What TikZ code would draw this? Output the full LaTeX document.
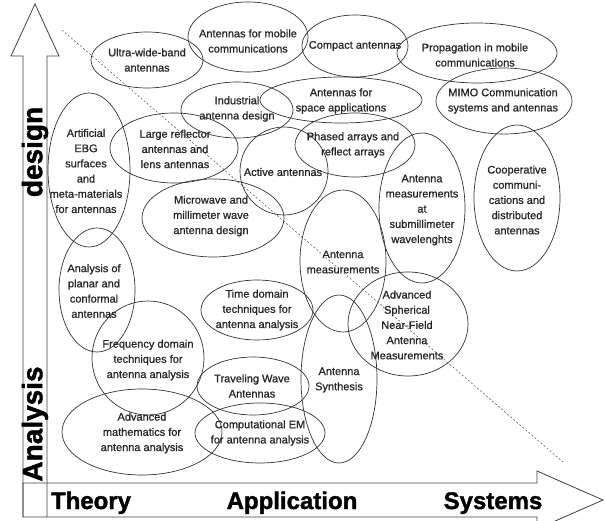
\documentclass[tikz,border=0pt]{standalone}
\usepackage{fontspec}
\setmainfont{Liberation Sans}
\newfontfamily\lblfont[FakeBold=0.9]{Liberation Sans}
\newfontfamily\axfont[FakeBold=1.5]{Liberation Sans Bold}
\begin{document}
\begin{tikzpicture}[x=1pt,y=-1pt,
  blob/.style={draw=black!80,line width=0.7pt},
  lbl/.style={inner sep=0pt,align=center,text=black!85,font=\lblfont\fontsize{11}{15.2}\selectfont},
  axlbl/.style={inner sep=0pt,font=\axfont\fontsize{28}{30}\selectfont},
  botlbl/.style={inner sep=0pt,anchor=base,font=\axfont\fontsize{24}{26}\selectfont},
  axis/.style={draw=black!75,line width=0.8pt}]
\useasboundingbox (0,0) rectangle (605,521);
% axes
\draw[axis] (23,517) -- (23,56) -- (11,56) -- (35,4) -- (59,56) -- (47,56) -- (47,517);
\draw[axis] (23,483) -- (537,483) -- (537,471) -- (603,500) -- (537,529) -- (537,517) -- (23,517) -- cycle;
\node[axlbl,rotate=90] (design) at (35,152) {design};
\node[axlbl,rotate=90] (analysis) at (35,424) {Analysis};
\node[botlbl] (theory) at (91,509) {Theory};
\node[botlbl] (application) at (292,509) {Application};
\node[botlbl] (systems) at (493,509) {Systems};
% diagonal
\coordinate (d1) at (62,30);
\coordinate (d2) at (563,462);
\draw[black!70,line width=0.5pt,dash pattern=on 2pt off 2pt] (d1) -- (d2);
% ellipses
\draw[blob] (147,60) ellipse [x radius=56,y radius=28];
\draw[blob] (248,37) ellipse [x radius=60,y radius=35];
\draw[blob] (355,46) ellipse [x radius=53,y radius=31];
\draw[blob] (477,53) ellipse [x radius=80,y radius=30];
\draw[blob] (504,101) ellipse [x radius=68,y radius=33];
\draw[blob] (341,100) ellipse [x radius=81,y radius=23];
\draw[blob] (237,110) ellipse [x radius=56,y radius=28];
\draw[blob] (174,148) ellipse [x radius=64,y radius=35];
\draw[blob] (89,170) ellipse [x radius=41,y radius=77];
\draw[blob] (284,171) ellipse [x radius=44,y radius=44];
\draw[blob] (355,145) ellipse [x radius=60,y radius=32];
\draw[blob] (213,218) ellipse [x radius=71,y radius=39];
\draw[blob] (422,208) ellipse [x radius=43,y radius=75];
\draw[blob] (517,198) ellipse [x radius=43,y radius=73];
\draw[blob] (343,261) ellipse [x radius=43,y radius=71];
\draw[blob] (408,324) ellipse [x radius=60,y radius=52];
\draw[blob] (97,290) ellipse [x radius=38,y radius=62];
\draw[blob] (257,310) ellipse [x radius=56,y radius=30];
\draw[blob] (148,358) ellipse [x radius=56,y radius=57];
\draw[blob] (339,379) ellipse [x radius=38,y radius=84];
\draw[blob] (253,386) ellipse [x radius=56,y radius=29];
\draw[blob] (260,433) ellipse [x radius=65,y radius=30];
\draw[blob] (142,432) ellipse [x radius=80,y radius=43];
% labels
\node[lbl] (uwb) at (147,60) {Ultra-wide-band\\antennas};
\node[lbl] (mob) at (248,41) {Antennas for mobile\\communications};
\node[lbl] (comp) at (355,46) {Compact antennas};
\node[lbl] (prop) at (475,55) {Propagation in mobile\\communications};
\node[lbl] (mimo) at (503,101) {MIMO Communication\\systems and antennas};
\node[lbl] (space) at (341,101) {Antennas for\\space applications};
\node[lbl] (ind) at (237,109) {Industrial\\antenna design};
\node[lbl] (refl) at (175,149) {Large reflector\\antennas and\\lens antennas};
\node[lbl] (ebg) at (86,171) {Artificial\\EBG\\surfaces\\and\\meta-materials\\for antennas};
\node[lbl] (act) at (283,172) {Active antennas};
\node[lbl] (phas) at (353,145) {Phased arrays and\\reflect arrays};
\node[lbl] (micro) at (211,216) {Microwave and\\millimeter wave\\antenna design};
\node[lbl] (submm) at (422,210) {Antenna\\measurements\\at\\submillimeter\\wavelenghts};
\node[lbl] (coop) at (517,200) {Cooperative\\communi-\\cations and\\distributed\\antennas};
\node[lbl] (meas) at (343,262) {Antenna\\measurements};
\node[lbl] (sph) at (407,325) {Advanced\\Spherical\\Near-Field\\Antenna\\Measurements};
\node[lbl] (plan) at (94,291) {Analysis of\\planar and\\conformal\\antennas};
\node[lbl] (time) at (257,310) {Time domain\\techniques for\\antenna analysis};
\node[lbl] (freq) at (148,360) {Frequency domain\\techniques  for\\antenna analysis};
\node[lbl] (synth) at (339,380) {Antenna\\Synthesis};
\node[lbl] (trav) at (252,386) {Traveling Wave\\Antennas};
\node[lbl] (cem) at (260,433) {Computational EM\\for antenna analysis};
\node[lbl] (math) at (142,433) {Advanced\\mathematics for\\antenna analysis};
\end{tikzpicture}
\end{document}
